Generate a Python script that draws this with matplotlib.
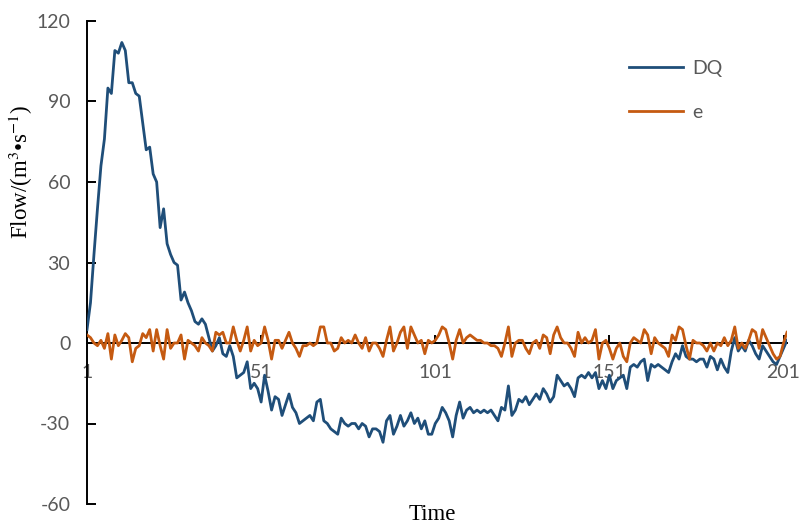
import matplotlib
matplotlib.use("Agg")
import matplotlib.pyplot as plt
import numpy as np

time_index = list(range(1, 203))

dq = [5, 15, 33, 50, 66, 76, 95, 93, 109, 108,
      112, 109, 97, 97, 93, 92, 82, 72, 73, 63,
      60, 43, 50, 37, 33, 30, 29, 16, 19, 15,
      12, 8, 7, 9, 7, 2, -3, -1, 2, -4,
      -5, -1, -5, -13, -12, -11, -7, -17, -15, -17,
      -22, -12, -18, -25, -20, -21, -27, -23, -19, -24,
      -26, -30, -29, -28, -27, -29, -22, -21, -29, -30,
      -32, -33, -34, -28, -30, -31, -30, -30, -32, -30,
      -31, -35, -32, -32, -33, -37, -29, -27, -34, -31,
      -27, -31, -29, -26, -30, -28, -32, -29, -34, -34,
      -30, -28, -24, -26, -29, -35, -27, -22, -28, -25,
      -24, -26, -25, -26, -25, -26, -25, -27, -29, -24,
      -25, -16, -27, -25, -21, -22, -20, -23, -21, -19,
      -21, -17, -19, -22, -20, -12, -14, -16, -15, -17,
      -20, -13, -12, -13, -11, -13, -11, -17, -14, -17,
      -12, -17, -14, -13, -12, -17, -9, -8, -9, -7,
      -6, -14, -8, -9, -8, -9, -10, -11, -7, -4,
      -6, -1, -5, -6, -6, -7, -6, -6, -9, -5,
      -6, -10, -6, -9, -11, -3, 2, -3, -1, -3,
      1, -1, -4, -6, -1, -3, -5, -7, -8, -5,
      -2, 1]

e = [3, 2, 0, -1, 1, -2, 3.5, -6, 3, -1,
     1, 3.5, 2, -7, -2, -1, 3.5, 2, 5, -3,
     5, -1, -6, 5, -2, 0, 0, 3, -6, 1,
     0, -1, -3, 2, 0, -1, -3, 4, 3, 4,
     0, 0, 6, 1, -3, 1, 6, -3, 1, -1,
     0, 6, 1, -6, 1, 1, -2, 1, 4, 0,
     -2, -5, -1, -1, 0, -1, 0, 6, 6, 0,
     0, -3, -2, 2, 0, 1, 0, 3, 0, -2,
     2, -3, 0, 0, -2, -5, 1, 6, -3, 0,
     4, 6, -2, 6, 3, 0, 1, -4, 1, 0,
     1, 3, 6, 5, 0, -6, 1, 5, 0, 2,
     3, 2, 1, 1, 0, 0, -1, -1, -2, -5,
     0, 6, -5, 0, 1, 1, -2, -4, 0, 1,
     -2, 3, 2, -4, 3, 6, 2, 0, 0, -2,
     -5, 4, 0, 2, 0, 1, 5, -6, 0, 1,
     -2, -6, -2, 0, -5, -7, 0, 2, 1, 0,
     5, 3, -4, 2, 0, -1, -2, -5, 3, 1,
     6, 5, -1, -6, 1, 0, 0, -1, -3, 0,
     -3, 0, -1, 2, -1, 1, 6, -2, 0, -2,
     1, 5, 4, -2, 5, 2, -1, -4, -6, -5,
     0, 4]

x_ticks = [1, 51, 101, 151, 201]
y_ticks = [-60, -30, 0, 30, 60, 90, 120]
series_labels = ["DQ", "e"]
y_label = "Flow/(m$^{3}$•s$^{-1}$)"
x_label = "Time"

plt.rcParams["mathtext.fontset"] = "stix"
plt.rcParams["axes.unicode_minus"] = False
W, H = 803, 526
fig = plt.figure(figsize=(W / 100, H / 100), dpi=100)
ax = fig.add_axes([87 / W, (H - 504) / H, (787 - 87) / W, (504 - 21) / H])

gray = "#595959"
ax.plot(time_index, dq, color="#1F4E79", lw=2.0, label=series_labels[0], zorder=3,
        solid_joinstyle="round")
ax.plot(time_index, e, color="#C55A11", lw=2.0, label=series_labels[1], zorder=3,
        solid_joinstyle="round")

ax.set_xlim(1, 202)
ax.set_ylim(-60, 120)
ax.set_xticks(x_ticks)
ax.set_yticks(y_ticks)

for s in ["top", "right"]:
    ax.spines[s].set_visible(False)
ax.spines["bottom"].set_position(("data", 0))
for s in ["left", "bottom"]:
    ax.spines[s].set_linewidth(1.4)
    ax.spines[s].set_color("black")

ax.tick_params(axis="y", direction="in", length=6.5, width=1.4, pad=12,
               labelsize=14, labelcolor=gray, color="black")
ax.tick_params(axis="x", direction="in", length=6, width=1.4, pad=15,
               labelsize=14, labelcolor=gray, color="black")
for lab in ax.get_xticklabels() + ax.get_yticklabels():
    lab.set_family("Lato")

leg = ax.legend(loc="upper left", bbox_to_anchor=(629 / W, 1 - 60 / H),
                bbox_transform=fig.transFigure, frameon=False,
                borderpad=0, borderaxespad=0, handlelength=2.8,
                handletextpad=0.45, labelspacing=1.37,
                prop={"family": "Lato", "size": 14})
for t in leg.get_texts():
    t.set_color(gray)

fig.text(28.5 / W, 1 - 172 / H, y_label, rotation=90, rotation_mode="anchor",
         ha="center", va="baseline", family=["Liberation Serif", "DejaVu Serif"],
         fontsize=16.5, color="black")
fig.text(432 / W, 5.5 / H, x_label, ha="center", va="baseline",
         family="Liberation Serif", fontsize=16.5, color="black")

fig.savefig("out.png", dpi=100)
